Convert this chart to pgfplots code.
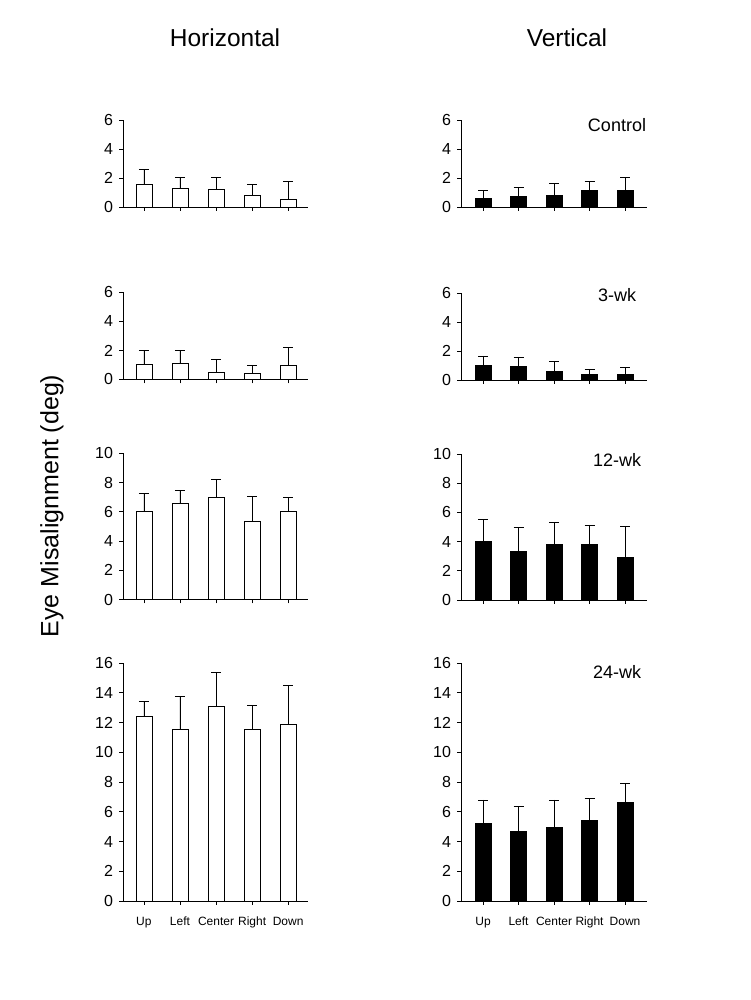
\documentclass[border=0pt]{standalone}
\usepackage{pgfplots}
\pgfplotsset{compat=1.18}
\usepackage{fontspec}
\setmainfont{Liberation Sans}
\begin{document}
\begin{tikzpicture}
\useasboundingbox (0,0) rectangle (750pt,1000pt);
\pgfplotsset{
  panel/.style={scale only axis, axis lines=left,
    axis line style={-, line width=0.8pt, black},
    ymin=0, xtick={0,1,2,3,4}, xticklabels={},
    tick align=outside, major tick length=4pt,
    tick style={line width=0.8pt, black},
    ticklabel style={font=\fontsize{16}{19}\selectfont},
    yticklabel style={xshift=-2.5pt},
    /pgf/number format/assume math mode=true,
    ybar, bar width=16pt, anchor=south west, clip=false},
  lcol/.style={panel, xmin=-0.58, xmax=4.55, width=185pt},
  rcol/.style={panel, xmin=-0.62, xmax=4.62, width=186pt},
  r6/.style={height=87pt, ymax=6, ytick={0,2,4,6}},
  r10/.style={height=146pt, ymax=10, ytick={0,2,4,6,8,10}},
  r16/.style={height=238pt, ymax=16, ytick={0,2,4,6,8,10,12,14,16},
    xticklabels={Up,Left,Center,Right,Down},
    xticklabel style={font=\fontsize{12}{14}\selectfont, text height=9pt, text depth=3pt, yshift=-8pt}},
  eb/.style={error bars/.cd, y dir=plus, y explicit,
    error bar style={line width=0.8pt, black},
    error mark options={rotate=90, mark size=5pt, line width=0.8pt, black}},
  wbar/.style={fill=white, draw=black, line width=0.8pt, eb},
  kbar/.style={fill=black, draw=black, line width=0.8pt, eb},
}
% Row 1
\begin{axis}[lcol, r6, at={(123pt,793pt)}]
\addplot[wbar] coordinates {(0,1.58)+-(0,1.03) (1,1.30)+-(0,0.76) (2,1.24)+-(0,0.82) (3,0.82)+-(0,0.76) (4,0.55)+-(0,1.19)};
\end{axis}
\begin{axis}[rcol, r6, at={(461pt,793pt)}]
\addplot[kbar] coordinates {(0,0.58)+-(0,0.55) (1,0.74)+-(0,0.60) (2,0.81)+-(0,0.81) (3,1.15)+-(0,0.61) (4,1.15)+-(0,0.88)};
\end{axis}
% Row 2
\begin{axis}[lcol, r6, at={(123pt,620.5pt)}]
\addplot[wbar] coordinates {(0,1.05)+-(0,0.95) (1,1.11)+-(0,0.89) (2,0.50)+-(0,0.89) (3,0.43)+-(0,0.55) (4,0.98)+-(0,1.22)};
\end{axis}
\begin{axis}[rcol, r6, at={(461pt,620pt)}]
\addplot[kbar] coordinates {(0,0.98)+-(0,0.68) (1,0.91)+-(0,0.68) (2,0.57)+-(0,0.68) (3,0.36)+-(0,0.34) (4,0.36)+-(0,0.48)};
\end{axis}
% Row 3
\begin{axis}[lcol, r10, at={(123pt,400.5pt)}]
\addplot[wbar] coordinates {(0,6.00)+-(0,1.28) (1,6.60)+-(0,0.89) (2,7.01)+-(0,1.23) (3,5.32)+-(0,1.76) (4,6.00)+-(0,1.01)};
\end{axis}
\begin{axis}[rcol, r10, at={(461pt,400pt)}]
\addplot[kbar] coordinates {(0,4.00)+-(0,1.50) (1,3.33)+-(0,1.62) (2,3.80)+-(0,1.54) (3,3.80)+-(0,1.34) (4,2.92)+-(0,2.10)};
\end{axis}
% Row 4
\begin{axis}[lcol, r16, at={(123pt,99pt)}]
\addplot[wbar] coordinates {(0,12.43)+-(0,1.01) (1,11.55)+-(0,2.20) (2,13.10)+-(0,2.29) (3,11.55)+-(0,1.62) (4,11.89)+-(0,2.63)};
\end{axis}
\begin{axis}[rcol, r16, at={(461pt,99pt)}]
\addplot[kbar] coordinates {(0,5.21)+-(0,1.58) (1,4.67)+-(0,1.71) (2,4.94)+-(0,1.85) (3,5.39)+-(0,1.53) (4,6.65)+-(0,1.28)};
\end{axis}
% Titles and labels
\node[font=\fontsize{24.5}{29}\selectfont] at (225pt,962pt) {Horizontal};
\node[font=\fontsize{24.5}{29}\selectfont] at (567pt,962pt) {Vertical};
\node[rotate=90, font=\fontsize{25}{30}\selectfont] at (52pt,494pt) {Eye Misalignment (deg)};
\node[anchor=base, inner sep=0pt, font=\fontsize{18}{21}\selectfont] at (617pt,868.3pt) {Control};
\node[anchor=base, inner sep=0pt, font=\fontsize{18}{21}\selectfont] at (617pt,698.3pt) {3-wk};
\node[anchor=base, inner sep=0pt, font=\fontsize{18}{21}\selectfont] at (617pt,533.3pt) {12-wk};
\node[anchor=base, inner sep=0pt, font=\fontsize{18}{21}\selectfont] at (617pt,321.7pt) {24-wk};
\end{tikzpicture}
\end{document}
